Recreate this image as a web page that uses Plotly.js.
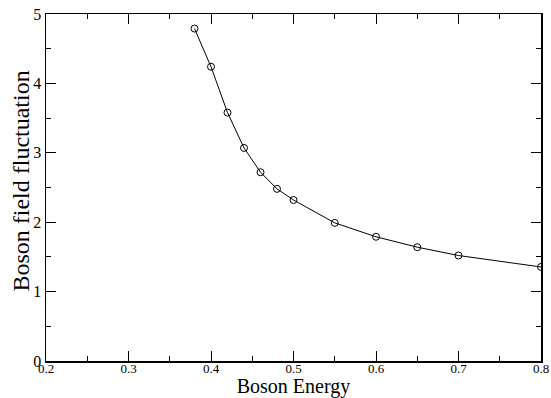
<!DOCTYPE html>
<html>
<head>
<meta charset="utf-8">
<script src="https://cdn.plot.ly/plotly-3.0.1.min.js"></script>
<style>body{margin:0;padding:0;background:#fff}#chart{width:551px;height:398px}</style>
</head>
<body>
<div id="chart"></div>
<script>
const bosonEnergy = [0.38, 0.40, 0.42, 0.44, 0.46, 0.48, 0.50, 0.55, 0.60, 0.65, 0.70, 0.80];
const fieldFluctuation = [4.79, 4.24, 3.58, 3.07, 2.72, 2.48, 2.32, 1.99, 1.79, 1.64, 1.52, 1.355];
const xTickVals = [0.2, 0.3, 0.4, 0.5, 0.6, 0.7, 0.8];
const xTickText = ["0.2", "0.3", "0.4", "0.5", "0.6", "0.7", "0.8"];
const yTickVals = [0, 1, 2, 3, 4, 5];
const yTickText = ["0", "1", "2", "3", "4", "5"];
const xTitle = 'Boson Energy';
const yTitle = 'Boson field fluctuation';

const font = "'Liberation Serif', 'Times New Roman', serif";

const trace = {
  x: bosonEnergy,
  y: fieldFluctuation,
  mode: 'lines+markers',
  type: 'scatter',
  line: {color: '#000', width: 1},
  marker: {symbol: 'circle-open', size: 7, color: '#000', line: {width: 1, color: '#000'}},
  showlegend: false,
  hoverinfo: 'skip'
};

const layout = {
  width: 551, height: 398,
  margin: {l: 46, r: 10, t: 14, b: 37, pad: 0},
  paper_bgcolor: '#fff', plot_bgcolor: '#fff',
  font: {family: font, color: '#000'},
  xaxis: {
    range: [0.2, 0.8], tickmode: 'array', tickvals: xTickVals, ticktext: xTickText,
    ticks: 'inside', ticklen: 10, tickwidth: 1, tickcolor: '#000',
    minor: {dtick: 0.05, ticks: 'inside', ticklen: 5, tickwidth: 1, tickcolor: '#000', showgrid: false},
    showline: true, linecolor: '#000', linewidth: 1.5, mirror: 'ticks',
    showgrid: false, zeroline: false,
    ticklabelstandoff: -5,
    tickfont: {size: 13, family: font, color: '#000'},
    title: {text: xTitle, font: {size: 20, family: font, color: '#000'}, standoff: 0}
  },
  yaxis: {
    range: [0, 5], tickmode: 'array', tickvals: yTickVals, ticktext: yTickText,
    ticks: 'inside', ticklen: 10, tickwidth: 1, tickcolor: '#000',
    minor: {dtick: 0.5, ticks: 'inside', ticklen: 5, tickwidth: 1, tickcolor: '#000', showgrid: false},
    showline: true, linecolor: '#000', linewidth: 1.5, mirror: 'ticks',
    showgrid: false, zeroline: false,
    tickfont: {size: 16, family: font, color: '#000'}
  },
  annotations: [{
    text: yTitle, xref: 'paper', yref: 'paper', x: -0.0505, y: 0.517,
    xanchor: 'center', yanchor: 'middle', textangle: -90, showarrow: false,
    font: {size: 24, family: font, color: '#000'}
  }]
};

Plotly.newPlot('chart', [trace], layout, {staticPlot: true, displayModeBar: false});
</script>
</body>
</html>
